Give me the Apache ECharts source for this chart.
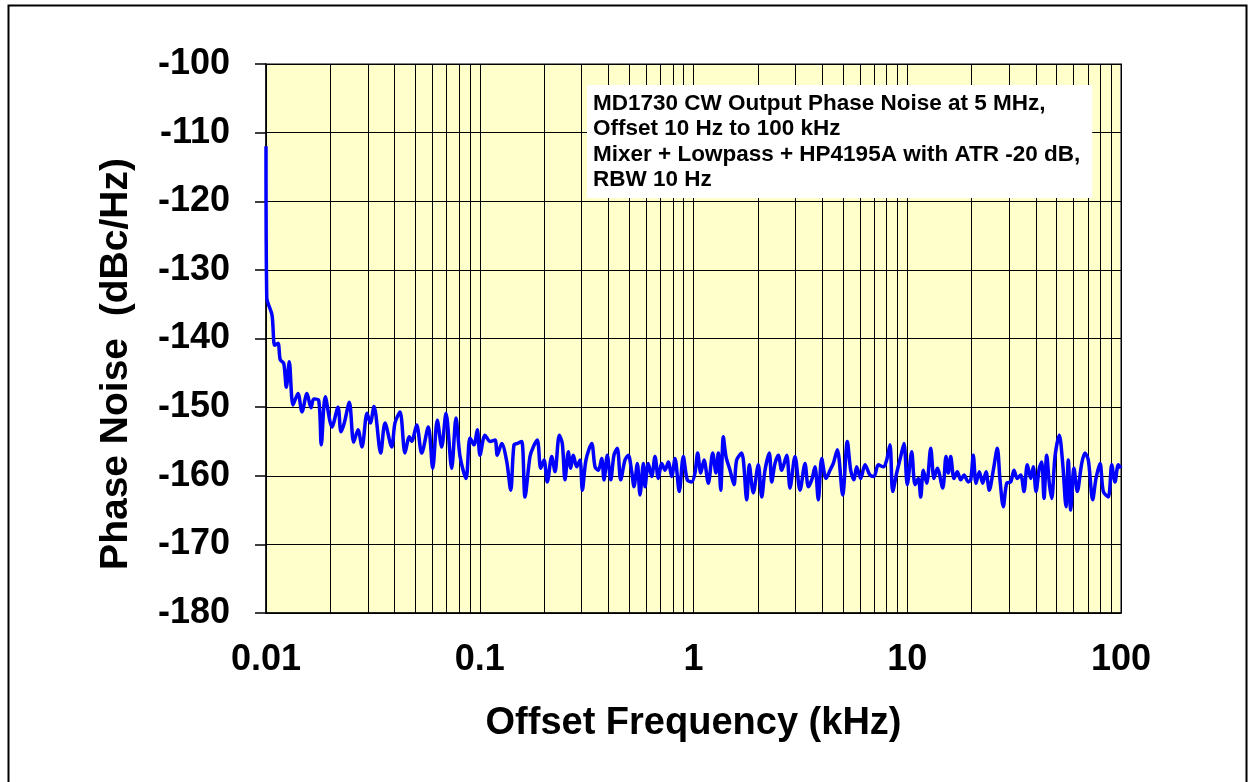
<!DOCTYPE html>
<html>
<head>
<meta charset="utf-8">
<script src="https://cdn.jsdelivr.net/npm/echarts@6/dist/echarts.min.js"></script>
<style>
html,body{margin:0;padding:0;background:#fff;}
#chart{width:1249px;height:782px;}
</style>
</head>
<body>
<div id="chart"></div>
<script>
// Offset frequency (kHz)
const freqKHz = [
0.0100,0.01008,0.01067,0.01098,0.01138,0.01166,0.01210,0.01245,0.01285,0.01338,
0.01411,0.01474,0.01555,0.01624,0.01672,0.01764,0.01814,0.01894,0.02036,0.02172,
0.02243,0.02324,0.02454,0.02572,0.02694,0.02813,0.02969,0.03076,0.03201,0.03441,
0.03604,0.03873,0.04013,0.04236,0.04470,0.04682,0.04804,0.05070,0.05350,0.05745,
0.06025,0.06330,0.06637,0.06952,0.07392,0.07743,0.08087,0.08626,0.09004,0.09400,
0.09739,0.1003,0.1058,0.1117,0.1179,0.1208,0.1267,0.1337,0.1396,0.1446,
0.1499,0.1571,0.1628,0.1718,0.1780,0.1859,0.1928,0.1998,0.2070,0.2171,
0.2249,0.2356,0.2433,0.2505,0.2596,0.2664,0.2740,0.2841,0.2944,0.3020,
0.3141,0.3341,0.3462,0.3587,0.3720,0.3814,0.3950,0.4100,0.4246,0.4400,
0.4564,0.4780,0.4955,0.5139,0.5268,0.5460,0.5620,0.5826,0.5932,0.6144,
0.6374,0.6606,0.6844,0.7101,0.7356,0.7623,0.7907,0.8194,0.8579,0.8961,
0.9354,0.9808,1.016,1.046,1.081,1.120,1.173,1.230,1.274,1.306,
1.341,1.379,1.419,1.482,1.547,1.592,1.681,1.774,1.824,1.904,
2.010,2.085,2.160,2.263,2.322,2.406,2.494,2.586,2.729,2.828,
2.985,3.150,3.324,3.444,3.573,3.702,3.836,3.980,4.169,4.352,
4.509,4.708,4.989,5.243,5.438,5.635,5.800,6.054,6.343,6.694,
6.989,7.321,7.727,8.013,8.304,8.550,8.926,9.318,9.656,10.00,
10.49,10.87,11.26,11.56,11.89,12.33,12.88,13.34,13.82,14.65,
15.18,15.56,15.97,16.55,17.15,17.78,18.43,19.30,19.81,20.37,
20.97,21.73,22.54,23.36,24.20,25.27,26.38,27.16,28.14,29.19,
30.48,31.58,32.72,33.95,35.17,36.45,37.81,38.88,40.03,41.48,
42.56,43.63,44.92,46.19,47.40,49.12,51.44,53.36,55.30,56.68,
58.16,60.26,62.45,65.50,67.85,70.31,73.73,76.38,79.79,82.65,
87.22,90.48,93.74,97.14,100.0
];
// Phase noise (dBc/Hz)
const phaseNoise = [
-112.0,-134.0,-136.6,-141.0,-140.7,-143.1,-143.6,-147.1,-143.4,-149.7,
-148.0,-150.7,-148.0,-150.1,-148.8,-149.0,-155.5,-148.5,-152.9,-150.0,
-153.6,-152.3,-149.3,-155.1,-153.3,-155.8,-150.9,-152.3,-149.9,-156.7,
-152.3,-155.8,-152.3,-150.7,-156.7,-154.3,-155.0,-152.6,-156.7,-152.9,
-158.9,-151.9,-155.8,-150.9,-158.9,-151.6,-157.2,-160.4,-154.5,-155.5,
-153.3,-157.0,-154.1,-155.0,-154.8,-157.0,-155.3,-157.9,-162.1,-155.5,
-155.3,-155.0,-163.1,-157.2,-155.8,-154.8,-158.9,-157.7,-160.9,-157.2,
-159.4,-154.1,-155.3,-160.6,-156.5,-158.9,-157.0,-158.7,-157.7,-162.1,
-157.7,-155.3,-158.7,-159.2,-157.5,-160.6,-157.0,-160.6,-157.0,-156.0,
-160.6,-157.7,-157.0,-159.4,-161.6,-158.2,-162.8,-158.2,-161.6,-158.2,
-160.1,-157.2,-160.4,-158.2,-159.2,-158.0,-160.1,-157.5,-162.3,-157.2,
-160.6,-160.9,-159.6,-156.7,-159.6,-157.7,-161.1,-156.7,-159.6,-156.7,
-162.1,-154.3,-157.2,-159.2,-161.3,-157.7,-156.7,-163.5,-158.4,-162.5,
-158.4,-163.1,-159.2,-156.7,-160.9,-158.2,-157.0,-159.2,-157.0,-161.8,
-157.2,-162.1,-158.2,-161.6,-160.6,-158.7,-163.5,-157.5,-160.4,-159.2,
-158.2,-156.2,-162.8,-155.0,-159.2,-160.6,-158.7,-160.4,-158.4,-159.9,
-160.1,-158.4,-158.7,-157.7,-155.5,-162.3,-159.6,-157.2,-155.3,-161.3,
-156.5,-161.3,-160.4,-163.1,-159.2,-161.1,-156.0,-160.4,-158.9,-161.8,
-157.2,-159.6,-157.2,-160.4,-159.4,-160.6,-159.9,-160.9,-160.6,-157.0,
-161.1,-159.4,-161.1,-159.4,-162.1,-159.2,-156.0,-160.6,-164.5,-161.1,
-160.9,-159.2,-160.4,-159.9,-162.3,-158.4,-160.4,-158.7,-162.3,-158.9,
-158.0,-163.3,-157.0,-161.1,-163.3,-157.2,-154.1,-158.2,-164.5,-157.7,
-165.0,-158.9,-162.3,-158.2,-156.7,-157.7,-163.5,-160.4,-158.2,-162.3,
-163.1,-158.4,-160.9,-158.4,-158.9
];
const xTickLabels = ['0.01','0.1','1','10','100'];
const minorGridKHz = [
0.02,0.03,0.04,0.05,0.06,0.07,0.08,0.09,
0.2,0.3,0.4,0.5,0.6,0.7,0.8,0.9,
2,3,4,5,6,7,8,9,
20,30,40,50,60,70,80,90
];
const noteLines = [
'MD1730 CW Output Phase Noise at 5 MHz,',
'Offset 10 Hz to 100 kHz',
'Mixer + Lowpass + HP4195A with ATR -20 dB,',
'RBW 10 Hz'
];
const yAxisTitle = 'Phase Noise  (dBc/Hz)';
const xAxisTitle = 'Offset Frequency (kHz)';

const FONT = '"Liberation Sans", Arial, Helvetica, sans-serif';
const chart = echarts.init(document.getElementById('chart'), null, {renderer: 'canvas'});
const data = freqKHz.map((f, i) => [f, phaseNoise[i]]);

chart.setOption({
  animation: false,
  backgroundColor: '#ffffff',
  graphic: [
    {type: 'rect', left: 6, top: 3, shape: {width: 1238, height: 820},
     style: {fill: 'none', stroke: '#000', lineWidth: 2}, z: 0, silent: true},
    {type: 'text', x: 116, y: 364, rotation: Math.PI / 2,
     style: {text: yAxisTitle, fill: '#000', font: 'bold 39px ' + FONT,
             textAlign: 'center', textVerticalAlign: 'middle'}, z: 10, silent: true}
  ],
  title: {
    text: noteLines.join('\n'),
    left: 587, top: 85,
    backgroundColor: '#ffffff',
    padding: [6, 12, 5, 6],
    textStyle: {fontFamily: FONT, fontWeight: 'bold', fontSize: 22.5, lineHeight: 25.5, color: '#000'},
    z: 10
  },
  grid: {
    left: 266, right: 128, top: 64, bottom: 169,
    show: true, backgroundColor: '#FFFFCC', borderColor: '#808080', borderWidth: 2
  },
  xAxis: {
    type: 'log', logBase: 10, min: 0.01, max: 100,
    name: xAxisTitle, nameLocation: 'middle', nameGap: 92,
    nameTextStyle: {fontFamily: FONT, fontWeight: 'bold', fontSize: 38, color: '#000'},
    axisLine: {show: true, lineStyle: {color: '#000', width: 1.5}},
    axisTick: {show: false},
    axisLabel: {
      fontFamily: FONT, fontWeight: 'bold', fontSize: 36, color: '#000', margin: 29,
      formatter: (v, i) => xTickLabels[i] !== undefined ? xTickLabels[i] : ''
    },
    splitLine: {show: true, lineStyle: {color: '#000', width: 1}}
  },
  yAxis: {
    type: 'value', min: -180, max: -100, interval: 10,
    axisLine: {show: true, lineStyle: {color: '#000', width: 1.5}},
    axisTick: {show: true, inside: false, length: 11, lineStyle: {color: '#000', width: 1.5}},
    axisLabel: {fontFamily: FONT, fontWeight: 'bold', fontSize: 36, color: '#000', margin: 36},
    splitLine: {show: true, lineStyle: {color: '#000', width: 1}}
  },
  series: [{
    type: 'line',
    data: data,
    showSymbol: false,
    symbol: 'none',
    smooth: 0.3,
    lineStyle: {color: '#0000FF', width: 3.5},
    z: 5,
    markLine: {
      silent: true, symbol: ['none', 'none'],
      label: {show: false},
      lineStyle: {color: '#000', width: 1, type: 'solid'},
      z: 1,
      data: minorGridKHz.map(v => ({xAxis: v}))
    }
  }]
});
</script>
</body>
</html>
